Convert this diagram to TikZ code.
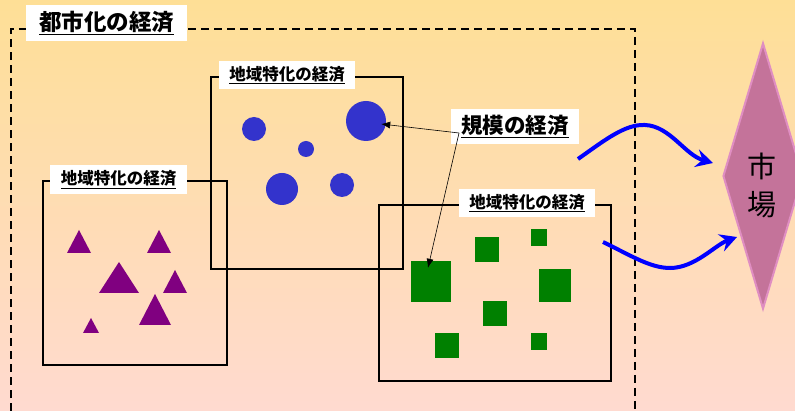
\documentclass[tikz,border=0pt]{standalone}
\usepackage{fontspec}
\newfontfamily\jpfont{Noto Sans CJK JP}
\usetikzlibrary{arrows.meta,positioning,shapes.geometric}

\definecolor{bgtop}{RGB}{254,223,150}
\definecolor{bgbot}{RGB}{255,218,208}
\definecolor{dotblue}{RGB}{51,51,204}
\definecolor{tripurple}{RGB}{128,0,128}
\definecolor{sqgreen}{RGB}{0,128,0}
\definecolor{mktfill}{RGB}{196,115,154}
\definecolor{mktedge}{RGB}{224,142,194}

\begin{document}
\begin{tikzpicture}[
  x=1pt, y=-1pt,
  >=Latex,
  region/.style={
    draw,
    line width=1.2pt,
    inner sep=0pt
  },
  tag/.style={
    fill=white,
    inner sep=0pt,
    font=\jpfont\bfseries\fontsize{16.5}{16.5}\selectfont,
    minimum width=136pt,
    minimum height=28pt
  },
  bigtag/.style={
    tag,
    font=\jpfont\bfseries\fontsize{21.5}{21.5}\selectfont
  },
  dot/.style={circle, fill=dotblue, inner sep=0pt},
  block/.style={fill=sqgreen, inner sep=0pt},
  frame/.style={dashed, dash pattern=on 8pt off 5pt, line width=1.2pt},
  arr/.style={-{Latex[length=9pt,width=7pt]}, line width=0.6pt},
  flow/.style={draw=blue, line width=4pt, -{Stealth[length=17pt,width=18pt,inset=6pt]}}
]
\useasboundingbox (0,0) rectangle (795,411);
\shade[top color=bgtop, bottom color=bgbot] (0,0) rectangle (795,411);

% urbanization frame
\draw[frame] (11,411) -- (11,29) -- (635,29) -- (635,411);
\node[bigtag, minimum width=161pt, minimum height=36pt,
  font=\jpfont\bfseries\fontsize{22.5}{22.5}\selectfont] (urban) at (106.5,23)
{\underline{都市化の経済}\hspace{9pt}};

% three regions
\node[region, minimum width=192pt, minimum height=192pt] (regcirc) at (307,173) {};
\node[region, minimum width=184pt, minimum height=184pt] (regtri) at (135,273) {};
\node[region, minimum width=232pt, minimum height=176pt] (regsq) at (495,293) {};

\node[tag] (tagcirc) at (287,75) {\underline{地域特化の経済}\hspace{3pt}};
\node[tag, minimum width=137pt, minimum height=29pt] (tagtri) at (118.5,179.5) {\underline{地域特化の経済}\hspace{3pt}};
\node[tag] (tagsq) at (527,203) {\underline{地域特化の経済}\hspace{3pt}};

% circles
\node[dot, minimum size=24pt] (c1) at (254,129) {};
\node[dot, minimum size=40pt] (bigc) at (366,121) {};
\node[dot, minimum size=16pt] (c3) at (306,149) {};
\node[dot, minimum size=32pt] (c4) at (282,189) {};
\node[dot, minimum size=24pt] (c5) at (342,185) {};

% triangles
\fill[tripurple] (67,253) -- (79,230) -- (91,253) -- cycle;
\fill[tripurple] (147,253) -- (159,230) -- (171,253) -- cycle;
\fill[tripurple] (99,293) -- (119,262) -- (139,293) -- cycle;
\fill[tripurple] (163,293) -- (175,270) -- (187,293) -- cycle;
\fill[tripurple] (139,325) -- (155,294) -- (171,325) -- cycle;
\fill[tripurple] (83,333) -- (91,318) -- (99,333) -- cycle;

% squares
\node[block, minimum width=40pt, minimum height=41pt] (sqA) at (431,281.5) {};
\node[block, minimum width=24pt, minimum height=25pt] (sqB) at (487,249.5) {};
\node[block, minimum width=16pt, minimum height=17pt] (sqC) at (539,237.5) {};
\node[block, minimum width=32pt, minimum height=33pt] (sqD) at (555,285.5) {};
\node[block, minimum width=24pt, minimum height=25pt] (sqE) at (495,313.5) {};
\node[block, minimum width=24pt, minimum height=25pt] (sqF) at (447,345.5) {};
\node[block, minimum width=16pt, minimum height=17pt] (sqG) at (539,341.5) {};

% scale economies
\node[bigtag, minimum width=128pt, minimum height=35pt] (scale) at (515,126.5)
{\underline{規模の経済}};
\coordinate (fork) at (459,133);
\draw[arr] (fork) -- ([shift={(-5,3)}]bigc.east);
\draw[arr] (fork) -- ([shift={(-3,7)}]sqA.north);

% market
\node[diamond, fill=mktfill, draw=mktedge, line width=2pt,
  minimum width=80pt, minimum height=266pt, inner sep=0pt] (market) at (763,176) {};
\node[font=\jpfont\fontsize{29}{38}\selectfont, align=center] (mktname) at (762,185) {市\\場};

\coordinate (out1) at (578,159);
\coordinate (in1) at (713,163);
\coordinate (out2) at (603,242);
\coordinate (in2) at (737,237);
\draw[flow] (out1) .. controls (605,140) and (625,124) .. (645,125)
  .. controls (670,126) and (685,155) .. (in1);
\draw[flow] (out2) .. controls (630,255) and (650,268) .. (670,268)
  .. controls (695,268) and (715,245) .. (in2);
\end{tikzpicture}
\end{document}
